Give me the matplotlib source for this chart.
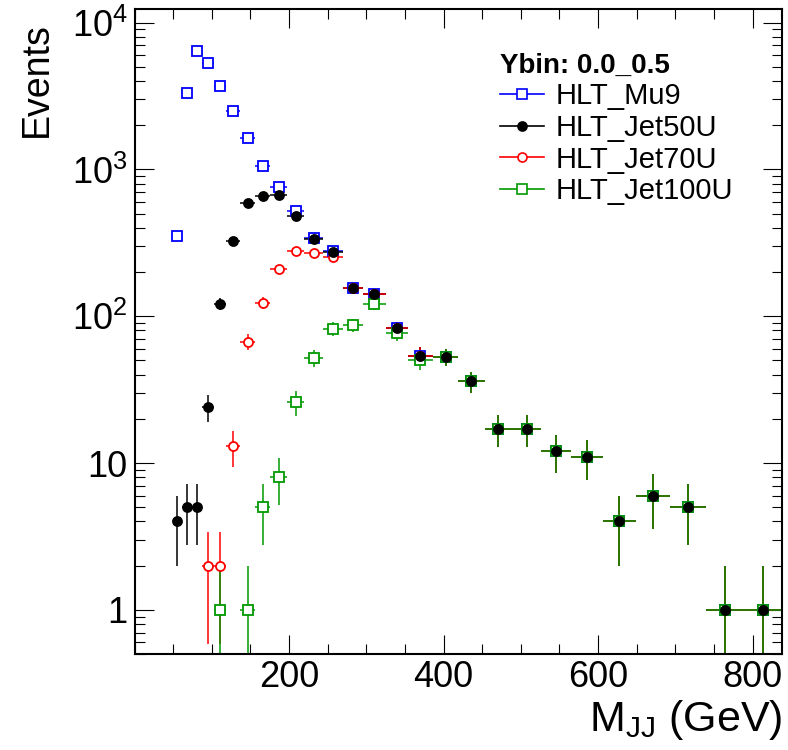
import numpy as np
import matplotlib
matplotlib.use("Agg")
import matplotlib.pyplot as plt
from matplotlib.lines import Line2D
from matplotlib.ticker import FixedLocator, LogLocator, NullFormatter, MultipleLocator

plt.rcParams['font.family'] = ['Liberation Sans', 'DejaVu Sans']
plt.rcParams['mathtext.fontset'] = 'custom'
plt.rcParams['mathtext.rm'] = 'Liberation Sans'
plt.rcParams['mathtext.it'] = 'Liberation Sans:italic'
plt.rcParams['mathtext.bf'] = 'Liberation Sans:bold'

# dijet mass bin edges (GeV)
edges = [50, 61, 74, 88, 103, 119, 137, 156, 176, 197, 220, 244, 270, 296, 325,
         354, 386, 419, 453, 489, 526, 565, 606, 649, 693, 740, 788, 838]

nan = np.nan
mu9 = [350, 3300, 6400, 5300, 3700, 2500, 1630, 1060, 755, 523, 341, 278, 157, 142,
       83, 54, 53, 36, 17, 17, 12, 11, 4, 6, 5, 1, 1]
jet50u = [4, 5, 5, 24, 122, 325, 590, 660, 670, 480, 337, 275, 157, 142,
          83, 54, 53, 36, 17, 17, 12, 11, 4, 6, 5, 1, 1]
jet70u = [nan, nan, nan, 2, 2, 13, 67, 124, 210, 277, 271, 254, 157, 142,
          83, 54, 53, 36, 17, 17, 12, 11, 4, 6, 5, 1, 1]
jet100u = [nan, nan, nan, nan, 1, nan, 1, 5, 8, 26, 52, 82, 87, 121,
           77, 50, 53, 36, 17, 17, 12, 11, 4, 6, 5, 1, 1]

labels = ["HLT_Mu9", "HLT_Jet50U", "HLT_Jet70U", "HLT_Jet100U"]
colors = ["#0000ff", "#000000", "#ff0000", "#009900"]
markers = ["s", "o", "o", "s"]
filled = [False, True, False, False]

lo = np.array(edges[:-1], float)
hi = np.array(edges[1:], float)
centers = (lo + hi) / 2
half = (hi - lo) / 2

fig = plt.figure(figsize=(7.88, 7.5), dpi=100)
ax = fig.add_axes([134.5 / 788, 1 - 654 / 750, (782 - 134.5) / 788, (654 - 9) / 750])

for i, vals in enumerate([mu9, jet50u, jet70u, jet100u]):
    y = np.array(vals, float)
    m = ~np.isnan(y)
    err = np.sqrt(y[m])
    low = np.minimum(err, y[m] * 0.999)
    c = colors[i]
    eb = ax.errorbar(centers[m], y[m], xerr=half[m], yerr=[low, err],
                     fmt=markers[i], color=c, mec=c,
                     mfc=c if filled[i] else 'white',
                     ms=6.5, mew=1.3, elinewidth=1.1, capsize=0,
                     zorder=2 + i * 0.1)
    eb[0].set_zorder(6 if filled[i] else 3 + i * 0.1)

ax.set_yscale('log')
ax.set_xlim(0, 838)
ax.set_ylim(0.5, 1.24e4)

ax.yaxis.set_major_locator(FixedLocator([1, 10, 100, 1000, 10000]))
ax.set_yticklabels(['1', '10', '$10^{2}$', '$10^{3}$', '$10^{4}$'])
ax.yaxis.set_minor_locator(LogLocator(base=10, subs=range(2, 10)))
ax.yaxis.set_minor_formatter(NullFormatter())
ax.xaxis.set_major_locator(FixedLocator([200, 400, 600, 800]))
ax.xaxis.set_minor_locator(MultipleLocator(50))

ax.tick_params(which='both', direction='in', top=True, right=True, width=0.8)
ax.tick_params(which='major', length=14, labelsize=26)
ax.tick_params(which='minor', length=7)
ax.tick_params(axis='x', pad=4)
ax.tick_params(axis='y', pad=5)
for s in ax.spines.values():
    s.set_linewidth(1.5)

fig.text(37 / 788, 1 - 22 / 750, 'Events', rotation=90, ha='center', va='top', fontsize=27)
fig.text(782 / 788, 1 - 731 / 750, r'M$_{\rm JJ}$ (GeV)', ha='right', va='baseline', fontsize=31)

handles = [Line2D([], [], color=colors[i], marker=markers[i], mec=colors[i],
                  mfc=colors[i] if filled[i] else 'white', ms=6.5, mew=1.2, lw=1.2)
           for i in range(4)]
ax.legend(handles, labels, title='Ybin: 0.0_0.5', loc='upper left',
          bbox_to_anchor=(500 / 788, 1 - 53 / 750), bbox_transform=fig.transFigure,
          frameon=False, fontsize=21, title_fontproperties={'weight': 'bold', 'size': 20},
          alignment='left', handlelength=1.5, handletextpad=0.4, labelspacing=0.12,
          borderpad=0, borderaxespad=0)

fig.savefig('out.png', dpi=100)
